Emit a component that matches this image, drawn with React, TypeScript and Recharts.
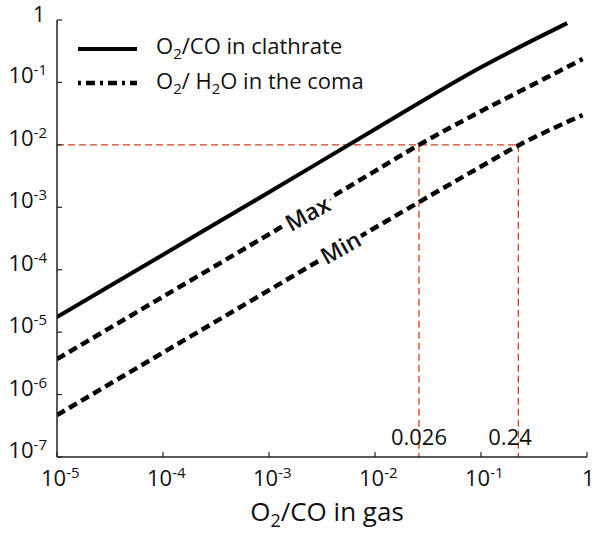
import React from 'react';
import { ComposedChart, Line, XAxis, YAxis, ReferenceDot } from 'recharts';

const FONT = '"Open Sans", "Noto Sans", sans-serif';

const xTicks = [1e-5, 1e-4, 1e-3, 1e-2, 1e-1, 1];
const xTickBase = ['10', '10', '10', '10', '10', '1'];
const xTickSup = ['-5', '-4', '-3', '-2', '-1', ''];

const yTicks = [1e-7, 1e-6, 1e-5, 1e-4, 1e-3, 1e-2, 1e-1, 1];
const yTickBase = ['10', '10', '10', '10', '10', '10', '10', '1'];
const yTickSup = ['-7', '-6', '-5', '-4', '-3', '-2', '-1', ''];

const clathrateX = [1e-5, 1e-4, 1e-3, 1e-2, 0.1, 0.32, 0.65];
const clathrateY = [1.74e-5, 1.74e-4, 1.74e-3, 1.78e-2, 0.175, 0.49, 0.89];

const maxX = [1e-5, 1e-4, 1e-3, 1e-2, 0.026, 0.079, 0.32, 0.91];
const maxY = [3.7e-6, 3.7e-5, 3.7e-4, 3.8e-3, 1e-2, 0.028, 0.095, 0.237];

const minX = [1e-5, 1e-4, 1e-3, 1e-2, 0.1, 0.225, 0.5, 0.91];
const minY = [4.7e-7, 4.7e-6, 4.7e-5, 4.7e-4, 4.5e-3, 0.0098, 0.019, 0.03];

const markX = [0.026, 0.225];
const markLabels = ['0.026', '0.24'];
const markLabelX = [0.026, 0.188];
const markY = 1e-2;

const toPts = (xs: number[], ys: number[]) => xs.map((x, i) => ({ x, y: ys[i] }));

const clathrate = toPts(clathrateX, clathrateY);
const comaMax = toPts(maxX, maxY);
const comaMin = toPts(minX, minY);
const redH = toPts([1e-5, markX[1]], [markY, markY]);
const redV1 = toPts([markX[0], markX[0]], [markY, 1e-7]);
const redV2 = toPts([markX[1], markX[1]], [markY, 1e-7]);

const AXIS = '#222';
const RED = '#cf3f1d';

const XTick = (props: any) => {
  const { x, y, payload } = props;
  const i = xTicks.findIndex((t) => Math.abs(t - payload.value) / t < 1e-6);
  const base = xTickBase[i];
  const sup = xTickSup[i];
  const tx = sup ? x - 16 : x - 5;
  return (
    <g>
      <line x1={x} y1={y} x2={x} y2={y - 5} stroke={AXIS} strokeWidth={1.2} />
      <text x={tx} y={y + 29} style={{ fontSize: 22 }} fill="#111" fontFamily={FONT} textAnchor="start">
        <tspan>{base}</tspan>
        {sup ? <tspan dy={-8} style={{ fontSize: 15 }}>{sup}</tspan> : null}
      </text>
    </g>
  );
};

const YTick = (props: any) => {
  const { x, y, payload } = props;
  const i = yTicks.findIndex((t) => Math.abs(t - payload.value) / t < 1e-6);
  const base = yTickBase[i];
  const sup = yTickSup[i];
  const tx = sup ? x - 10 : x - 12;
  const ty = sup ? y + 1 : y + 2;
  return (
    <g>
      <line x1={x} y1={y} x2={x + 5} y2={y} stroke={AXIS} strokeWidth={1.2} />
      <text x={tx} y={ty} style={{ fontSize: sup ? 22 : 21 }} fill="#111" fontFamily={FONT} textAnchor="end">
        <tspan>{base}</tspan>
        {sup ? <tspan dy={-8} style={{ fontSize: 15 }}>{sup}</tspan> : null}
      </text>
    </g>
  );
};

const TopTick = (props: any) => {
  const { x, y } = props;
  return <line x1={x} y1={y} x2={x} y2={y + 5} stroke={AXIS} strokeWidth={1.2} />;
};

const RightTick = (props: any) => {
  const { x, y } = props;
  return <line x1={x} y1={y} x2={x - 5} y2={y} stroke={AXIS} strokeWidth={1.2} />;
};

const XTitle = (props: any) => {
  const vb = props.viewBox || { x: 57, y: 457, width: 530, height: 79 };
  return (
    <text x={vb.x + vb.width / 2 + 5} y={vb.y + 64} style={{ fontSize: 26 }} fill="#111" fontFamily={FONT} textAnchor="middle">
      <tspan>O</tspan>
      <tspan dy={6} style={{ fontSize: 18 }}>2</tspan>
      <tspan dy={-6}>/CO in gas</tspan>
    </text>
  );
};

const rotatedLabel = (text: string) => (props: any) => {
  const vb = props.viewBox || {};
  const cx = (vb.x ?? 0) + (vb.width ?? 0) / 2;
  const cy = (vb.y ?? 0) + (vb.height ?? 0) / 2;
  return (
    <text
      x={cx}
      y={cy}
      transform={`rotate(-29 ${cx} ${cy})`}
      textAnchor="middle"
      dominantBaseline="central"
      style={{ fontSize: 23, fontWeight: 600 }}
      fontFamily={FONT}
      fill="#111"
      stroke="#fff"
      strokeWidth={8}
      paintOrder="stroke"
    >
      {text}
    </text>
  );
};

const markLabel = (text: string) => (props: any) => {
  const vb = props.viewBox || {};
  const cx = (vb.x ?? 0) + (vb.width ?? 0) / 2;
  const cy = (vb.y ?? 0) + (vb.height ?? 0) / 2;
  return (
    <text x={cx} y={cy} textAnchor="middle" style={{ fontSize: 22 }} fontFamily={FONT} fill="#111">
      {text}
    </text>
  );
};

const LegendBox = () => (
  <svg
    width={340}
    height={70}
    style={{ position: 'absolute', left: 70, top: 30, display: 'block', overflow: 'visible' }}
  >
    <line x1={8} y1={19} x2={67} y2={19} stroke="#000" strokeWidth={4} />
    <text x={86} y={24} style={{ fontSize: 22 }} fontFamily={FONT} fill="#111">
      <tspan>O</tspan>
      <tspan dy={5} style={{ fontSize: 15 }}>2</tspan>
      <tspan dy={-5}>/CO in clathrate</tspan>
    </text>
    <line x1={8} y1={53} x2={67} y2={53} stroke="#000" strokeWidth={4.5} strokeDasharray="3 5 9 5" />
    <text x={86} y={59} style={{ fontSize: 22 }} fontFamily={FONT} fill="#111">
      <tspan>O</tspan>
      <tspan dy={5} style={{ fontSize: 15 }}>2</tspan>
      <tspan dy={-5}>/ H</tspan>
      <tspan dy={5} style={{ fontSize: 15 }}>2</tspan>
      <tspan dy={-5}>O in the coma</tspan>
    </text>
  </svg>
);

export default function App() {
  return (
    <div style={{ position: 'absolute', left: 0, top: 0, width: 596, height: 536, background: '#fff' }}>
      <ComposedChart width={596} height={536} margin={{ top: 20, right: 9, bottom: 0, left: 0 }}>
        <XAxis
          dataKey="x"
          type="number"
          scale="log"
          domain={[1e-5, 1]}
          allowDataOverflow
          ticks={xTicks}
          interval={0}
          height={79}
          tickSize={0}
          tickMargin={0}
          tick={<XTick />}
          axisLine={{ stroke: AXIS, strokeWidth: 1.5 }}
          tickLine={false}
          label={<XTitle />}
        />
        <XAxis
          xAxisId="top"
          orientation="top"
          dataKey="x"
          type="number"
          scale="log"
          domain={[1e-5, 1]}
          allowDataOverflow
          ticks={xTicks}
          interval={0}
          height={0}
          tickSize={0}
          tickMargin={0}
          tick={<TopTick />}
          axisLine={{ stroke: AXIS, strokeWidth: 1.5 }}
          tickLine={false}
        />
        <YAxis
          dataKey="y"
          type="number"
          scale="log"
          domain={[1e-7, 1]}
          allowDataOverflow
          ticks={yTicks}
          interval={0}
          width={57}
          tickSize={0}
          tickMargin={0}
          tick={<YTick />}
          axisLine={{ stroke: AXIS, strokeWidth: 1.5 }}
          tickLine={false}
        />
        <YAxis
          yAxisId="right"
          orientation="right"
          dataKey="y"
          type="number"
          scale="log"
          domain={[1e-7, 1]}
          allowDataOverflow
          ticks={yTicks}
          interval={0}
          width={0}
          tickSize={0}
          tickMargin={0}
          tick={<RightTick />}
          axisLine={{ stroke: AXIS, strokeWidth: 1.5 }}
          tickLine={false}
        />
        <Line data={redH} dataKey="y" type="linear" stroke={RED} strokeWidth={1.3} strokeDasharray="7 4" dot={false} activeDot={false} isAnimationActive={false} legendType="none" />
        <Line data={redV1} dataKey="y" type="linear" stroke={RED} strokeWidth={1.3} strokeDasharray="7 4" dot={false} activeDot={false} isAnimationActive={false} legendType="none" />
        <Line data={redV2} dataKey="y" type="linear" stroke={RED} strokeWidth={1.3} strokeDasharray="7 4" dot={false} activeDot={false} isAnimationActive={false} legendType="none" />
        <Line data={clathrate} dataKey="y" name="clathrate" type="monotone" stroke="#000" strokeWidth={4} dot={false} activeDot={false} isAnimationActive={false} />
        <Line data={comaMax} dataKey="y" name="max" type="monotone" stroke="#000" strokeWidth={4.5} strokeDasharray="9 5" dot={false} activeDot={false} isAnimationActive={false} />
        <Line data={comaMin} dataKey="y" name="min" type="monotone" stroke="#000" strokeWidth={4.5} strokeDasharray="9 5" dot={false} activeDot={false} isAnimationActive={false} />
        <ReferenceDot x={0.0023} y={0.00081} r={0} fill="none" stroke="none" label={rotatedLabel('Max')} />
        <ReferenceDot x={0.0047} y={0.00023} r={0} fill="none" stroke="none" label={rotatedLabel('Min')} />
        <ReferenceDot x={markLabelX[0]} y={1.55e-7} r={0} fill="none" stroke="none" label={markLabel(markLabels[0])} />
        <ReferenceDot x={markLabelX[1]} y={1.55e-7} r={0} fill="none" stroke="none" label={markLabel(markLabels[1])} />
      </ComposedChart>
      <LegendBox />
    </div>
  );
}
